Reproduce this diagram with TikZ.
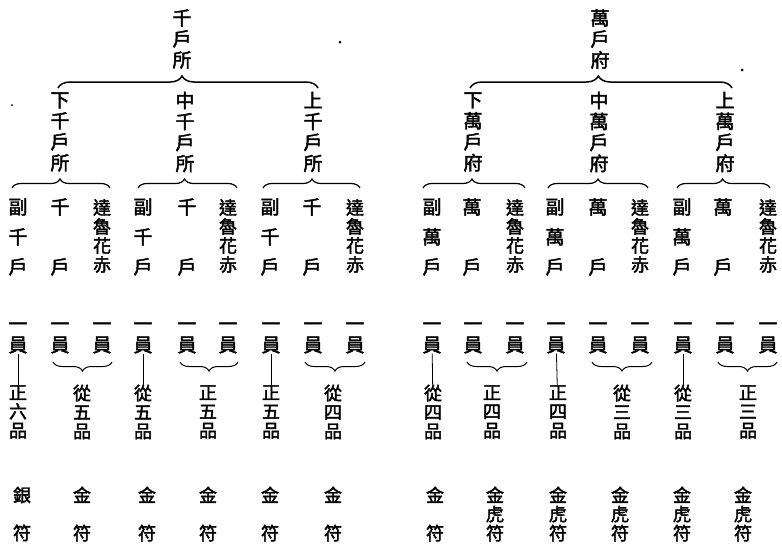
\documentclass[tikz,border=0pt]{standalone}
\usepackage{fontspec}
\setmainfont{Noto Sans CJK TC}[FakeBold=2.2]
\usetikzlibrary{decorations.pathreplacing}

\begin{document}
\begin{tikzpicture}[x=1pt, y=1pt,
    vt/.style={inner sep=0pt, align=center, font=\fontsize{19}{21}\selectfont},
    wide/.style={inner sep=0pt, align=center, font=\fontsize{19}{30}\selectfont},
    tight/.style={inner sep=0pt, align=center, font=\fontsize{18}{19}\selectfont},
    bigbrace/.style={decorate, decoration={brace, amplitude=12pt, aspect=#1}, line width=1.5pt},
    bigbrace/.default=0.5,
    smallbrace/.style={decorate, decoration={brace, amplitude=9pt, aspect=#1}, line width=1.2pt},
    smallbrace/.default=0.5,
    pairbrace/.style={decorate, decoration={brace, amplitude=9pt}, line width=1pt},
    link/.style={line width=0.8pt}]
      \useasboundingbox (0,0) rectangle (782,-558);
      % stray specks of the scan
      \fill (340,-42) circle (1.5); \fill (12,-105) circle (1); \fill (742,-70) circle (1.5);

      % heads
      \node[vt] (qhs) at (182,-39) {千\\戶\\所};
      \node[vt] (whf) at (600,-39) {萬\\戶\\府};
      \node[vt] (xq) at (60,-132) {下\\千\\戶\\所}; \node[vt] (zq) at (185,-132) {中\\千\\戶\\所}; \node[vt] (sq) at (313,-132) {上\\千\\戶\\所};
      \node[vt] (xw) at (473,-132) {下\\萬\\戶\\府}; \node[vt] (zw) at (599,-132) {中\\萬\\戶\\府}; \node[vt] (sw) at (725,-132) {上\\萬\\戶\\府};

      \coordinate (qbl) at (58,-88); \coordinate (qbr) at (318,-88);
      \coordinate (wbl) at (470,-88); \coordinate (wbr) at (732,-88);
      \draw[bigbrace=0.477] (qbl) -- (qbr);
      \draw[bigbrace=0.49] (wbl) -- (wbr);

      % officers
      \node[wide] (f1) at (18,-237) {副\\千\\戶}; \node[wide] (h1) at (60,-237) {千\\[30pt]戶}; \node[tight] (d1) at (102,-236) {達\\魯\\花\\赤};
      \node[wide] (f2) at (143,-237) {副\\千\\戶}; \node[wide] (h2) at (187,-237) {千\\[30pt]戶}; \node[tight] (d2) at (228,-236) {達\\魯\\花\\赤};
      \node[wide] (f3) at (270,-237) {副\\千\\戶}; \node[wide] (h3) at (312,-237) {千\\[30pt]戶}; \node[tight] (d3) at (355,-236) {達\\魯\\花\\赤};
      \node[wide] (f4) at (432,-237) {副\\萬\\戶}; \node[wide] (h4) at (472,-237) {萬\\[30pt]戶}; \node[tight] (d4) at (515,-236) {達\\魯\\花\\赤};
      \node[wide] (f5) at (555,-237) {副\\萬\\戶}; \node[wide] (h5) at (598,-237) {萬\\[30pt]戶}; \node[tight] (d5) at (640,-236) {達\\魯\\花\\赤};
      \node[wide] (f6) at (682,-237) {副\\萬\\戶}; \node[wide] (h6) at (723,-237) {萬\\[30pt]戶}; \node[tight] (d6) at (768,-236) {達\\魯\\花\\赤};

      \coordinate (s1l) at (12,-188); \coordinate (s1r) at (110,-188);
      \coordinate (s2l) at (138,-188); \coordinate (s2r) at (237,-188);
      \coordinate (s3l) at (263,-188); \coordinate (s3r) at (360,-188);
      \coordinate (s4l) at (423,-188); \coordinate (s4r) at (525,-188);
      \coordinate (s5l) at (548,-188); \coordinate (s5r) at (648,-188);
      \coordinate (s6l) at (677,-188); \coordinate (s6r) at (770,-188);
      \draw[smallbrace=0.49] (s1l) -- (s1r); \draw[smallbrace=0.47] (s2l) -- (s2r); \draw[smallbrace=0.505] (s3l) -- (s3r);
      \draw[smallbrace=0.48] (s4l) -- (s4r); \draw[smallbrace=0.5] (s5l) -- (s5r); \draw[smallbrace=0.49] (s6l) -- (s6r);

      % one post each
      \node[vt] (yf1) at (18,-338) {一\\員}; \node[vt] (yh1) at (60,-338) {一\\員}; \node[vt] (yd1) at (102,-338) {一\\員};
      \node[vt] (yf2) at (143,-338) {一\\員}; \node[vt] (yh2) at (187,-338) {一\\員}; \node[vt] (yd2) at (228,-338) {一\\員};
      \node[vt] (yf3) at (271,-338) {一\\員}; \node[vt] (yh3) at (313,-338) {一\\員}; \node[vt] (yd3) at (355,-338) {一\\員};
      \node[vt] (yf4) at (432,-338) {一\\員}; \node[vt] (yh4) at (473,-338) {一\\員}; \node[vt] (yd4) at (515,-338) {一\\員};
      \node[vt] (yf5) at (556,-338) {一\\員}; \node[vt] (yh5) at (598,-338) {一\\員}; \node[vt] (yd5) at (640,-338) {一\\員};
      \node[vt] (yf6) at (683,-338) {一\\員}; \node[vt] (yh6) at (725,-338) {一\\員}; \node[vt] (yd6) at (768,-338) {一\\員};

      % grades
      \node[tight] (gf1) at (18,-412) {正\\六\\品}; \node[tight] (gp1) at (82,-412) {從\\五\\品};
      \node[tight] (gf2) at (143,-412) {從\\五\\品}; \node[tight] (gp2) at (208,-412) {正\\五\\品};
      \node[tight] (gf3) at (271,-412) {正\\五\\品}; \node[tight] (gp3) at (333,-412) {從\\四\\品};
      \node[tight] (gf4) at (433,-412) {從\\四\\品}; \node[tight] (gp4) at (492,-412) {正\\四\\品};
      \node[tight] (gf5) at (558,-412) {正\\四\\品}; \node[tight] (gp5) at (622,-412) {從\\三\\品};
      \node[tight] (gf6) at (683,-412) {從\\三\\品}; \node[tight] (gp6) at (748,-412) {正\\三\\品};

      \draw[link] (yf1) -- (gf1); \draw[link] (yf2) -- (gf2); \draw[link] (yf3) -- (gf3);
      \draw[link] (yf4) -- (gf4); \draw[link] (yf5) -- (gf5); \draw[link] (yf6) -- (gf6);

      \coordinate (p1l) at (53,-362); \coordinate (p1r) at (112,-362);
      \coordinate (p2l) at (180,-362); \coordinate (p2r) at (238,-362);
      \coordinate (p3l) at (305,-362); \coordinate (p3r) at (365,-362);
      \coordinate (p4l) at (467,-362); \coordinate (p4r) at (527,-362);
      \coordinate (p5l) at (592,-362); \coordinate (p5r) at (652,-362);
      \coordinate (p6l) at (718,-362); \coordinate (p6r) at (777,-362);
      \draw[pairbrace] (p1r) -- (p1l); \draw[pairbrace] (p2r) -- (p2l); \draw[pairbrace] (p3r) -- (p3l);
      \draw[pairbrace] (p4r) -- (p4l); \draw[pairbrace] (p5r) -- (p5l); \draw[pairbrace] (p6r) -- (p6l);

      % tallies
      \node[tight] (tf1) at (22,-514) {銀\\[19pt]符}; \node[tight] (tp1) at (82,-514) {金\\[19pt]符};
      \node[tight] (tf2) at (147,-514) {金\\[19pt]符}; \node[tight] (tp2) at (208,-514) {金\\[19pt]符};
      \node[tight] (tf3) at (270,-514) {金\\[19pt]符}; \node[tight] (tp3) at (333,-514) {金\\[19pt]符};
      \node[tight] (tf4) at (435,-514) {金\\[19pt]符}; \node[tight] (tp4) at (495,-514) {金\\虎\\符};
      \node[tight] (tf5) at (558,-514) {金\\虎\\符}; \node[tight] (tp5) at (620,-514) {金\\虎\\符};
      \node[tight] (tf6) at (682,-514) {金\\虎\\符}; \node[tight] (tp6) at (743,-514) {金\\虎\\符};
\end{tikzpicture}
\end{document}
